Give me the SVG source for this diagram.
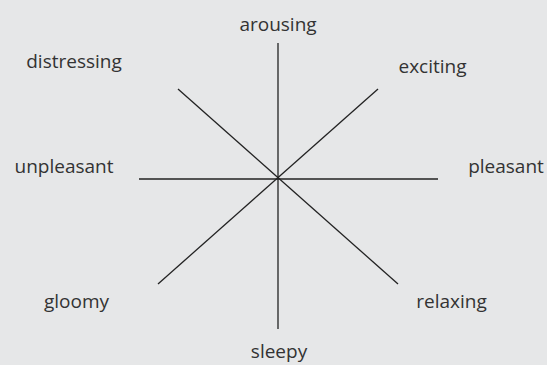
<svg xmlns="http://www.w3.org/2000/svg" width="547" height="365" viewBox="0 0 547 365">
<style>
.lbl{font-family:"Open Sans","Noto Sans",sans-serif;font-size:19px;fill:#333;text-anchor:middle}
.ax{stroke:#222;stroke-width:1.3;fill:none}
</style>
<rect width="547" height="365" fill="#e6e7e8"/>
<g id="connectors">
<line class="ax" x1="278" y1="43" x2="278" y2="329"/>
<line class="ax" x1="139" y1="179" x2="438" y2="179"/>
<line class="ax" x1="178" y1="89" x2="398" y2="284"/>
<line class="ax" x1="378" y1="89" x2="158" y2="284"/>
</g>
<g id="arousing"><text class="lbl" x="278" y="31">arousing</text></g>
<g id="exciting"><text class="lbl" x="432.5" y="73">exciting</text></g>
<g id="pleasant"><text class="lbl" x="506" y="173">pleasant</text></g>
<g id="relaxing"><text class="lbl" x="451.5" y="308">relaxing</text></g>
<g id="sleepy"><text class="lbl" x="279" y="358">sleepy</text></g>
<g id="gloomy"><text class="lbl" x="76.5" y="308">gloomy</text></g>
<g id="unpleasant"><text class="lbl" x="64" y="173">unpleasant</text></g>
<g id="distressing"><text class="lbl" x="74" y="68">distressing</text></g>
</svg>
